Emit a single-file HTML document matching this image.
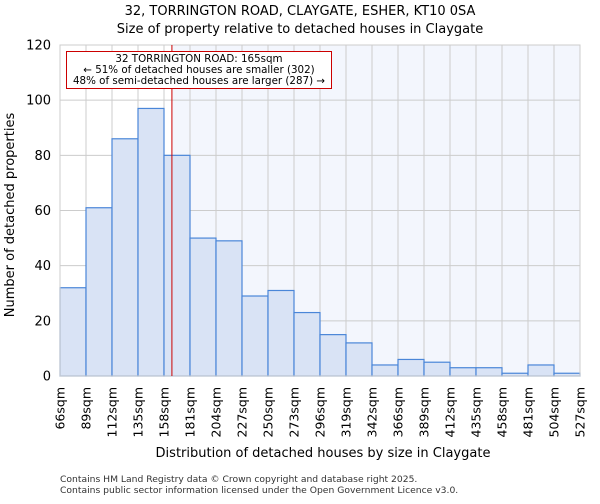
<!DOCTYPE html>
<html><head><meta charset="utf-8"><style>
body{margin:0;background:#fff;font-family:"DejaVu Sans","Liberation Sans",sans-serif;}
</style></head><body>
<svg width="600" height="500" xmlns="http://www.w3.org/2000/svg" font-family="DejaVu Sans, Liberation Sans, sans-serif">
<text x="300" y="15" text-anchor="middle" font-size="13">32, TORRINGTON ROAD, CLAYGATE, ESHER, KT10 0SA</text>
<text x="300" y="33" text-anchor="middle" font-size="13">Size of property relative to detached houses in Claygate</text>
<g id="plot"></g>
<text x="323" y="457" text-anchor="middle" font-size="13">Distribution of detached houses by size in Claygate</text>
<text transform="translate(14,215) rotate(-90)" text-anchor="middle" font-size="13">Number of detached properties</text>
<text x="60" y="482" font-size="9.2" fill="#333">Contains HM Land Registry data © Crown copyright and database right 2025.</text>
<text x="60" y="493" font-size="9.2" fill="#333">Contains public sector information licensed under the Open Government Licence v3.0.</text>
</svg>
<script>
const binLabels=["66sqm","89sqm","112sqm","135sqm","158sqm","181sqm","204sqm","227sqm","250sqm","273sqm","296sqm","319sqm","342sqm","366sqm","389sqm","412sqm","435sqm","458sqm","481sqm","504sqm","527sqm"];
const binEdges=[66,89,112,135,158,181,204,227,250,273,296,319,342,366,389,412,435,458,481,504,527];
const counts=[32,61,86,97,80,50,49,29,31,23,15,12,4,6,5,3,3,1,4,1];
const yTicks=[0,20,40,60,80,100,120];
const propertySize=165;
const L=60,R=580,T=45,B=376,NS="http://www.w3.org/2000/svg";
const g=document.getElementById('plot');
const xs=v=>{let i=0;while(i<binEdges.length-2&&v>binEdges[i+1])i++;return L+(i+(v-binEdges[i])/(binEdges[i+1]-binEdges[i]))*(R-L)/(binEdges.length-1);};
const xi=i=>L+i*(R-L)/(binEdges.length-1);
const ys=v=>B-v/120*(B-T);
function mk(t,a){const e=document.createElementNS(NS,t);for(const k in a)e.setAttribute(k,a[k]);g.appendChild(e);return e;}
const bgL=mk('rect',{x:L,y:T,width:xs(propertySize)-L,height:B-T,fill:'#ffffff'});


const bgR=mk('rect',{x:xs(propertySize),y:T,width:R-xs(propertySize),height:B-T,fill:'#f3f6fd'});


binEdges.forEach((e,i)=>{const l=mk('line',{x1:xi(i),x2:xi(i),y1:T,y2:B,stroke:'#cccccc'});


const t=mk('text',{transform:`translate(${xi(i)+4.5},387) rotate(-90)`,'text-anchor':'end','font-size':'12.5'});t.textContent=binLabels[i];

});
yTicks.forEach(v=>{const l=mk('line',{x1:L,x2:R,y1:ys(v),y2:ys(v),stroke:'#cccccc'});


const t=mk('text',{x:L-9,y:ys(v)+4.5,'text-anchor':'end','font-size':'13'});t.textContent=v;

});
counts.forEach((c,i)=>{const r=mk('rect',{x:xi(i),y:ys(c),width:xi(i+1)-xi(i),height:B-ys(c),fill:'#d9e3f5',stroke:'#4a86d8','stroke-width':1.2});

});
const ax=mk('rect',{x:L,y:T,width:R-L,height:B-T,fill:'none',stroke:'#cccccc'});


const px=xs(propertySize);
const ml=mk('line',{x1:px,x2:px,y1:T,y2:B,stroke:'#cc0000','stroke-width':1});


const box=mk('rect',{x:66.5,y:51.5,width:265,height:37,fill:'#fff',stroke:'#cc0000'});


["32 TORRINGTON ROAD: 165sqm","← 51% of detached houses are smaller (302)","48% of semi-detached houses are larger (287) →"].forEach((s,i)=>{const t=mk('text',{x:199,y:62+i*11,'text-anchor':'middle','font-size':'10.3'});t.textContent=s;

});
</script>
</body></html>
